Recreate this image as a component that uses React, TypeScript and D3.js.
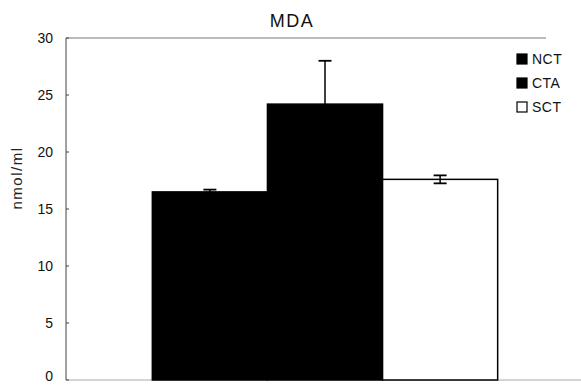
import * as d3 from 'd3';

const title = 'MDA';
const series = ['NCT', 'CTA', 'SCT'];
const means = [16.5, 24.2, 17.6];
const errors = [0.2, 3.8, 0.35];
const fills = ['#000', '#000', '#fff'];
const yTicks = [0, 5, 10, 15, 20, 25, 30];
const yLabel = 'nmol/ml';

const width = 581;
const height = 385;
const margin = {top: 38, right: -3, bottom: 5, left: 66};

export default function App() {
	const innerW = width - margin.left - margin.right;
	const innerH = height - margin.top - margin.bottom;

	const x0 = d3.scaleBand().domain([title]).range([0, innerW]).paddingInner(0).paddingOuter(0.25);
	const x1 = d3.scaleBand().domain(series).range([0, x0.bandwidth()]).padding(0);
	const y = d3.scaleLinear().domain([0, 30]).range([innerH, 0]);

	const font = '"Liberation Sans", Arial, sans-serif';
	const cap = 6.5;

	return (
		<svg
			width={width}
			height={height}
			style={{position: 'fixed', left: 0, top: 0, background: '#fff'}}
			fontFamily={font}
		>
			<text x={292} y={27} textAnchor="middle" fontSize={18} letterSpacing={1.5} fill="#111">
				{title}
			</text>
			<text
				transform={`translate(22,${178}) rotate(-90)`}
				textAnchor="middle"
				fontSize={15}
				letterSpacing={1.5}
				fill="#222"
			>
				{yLabel}
			</text>
			<g transform={`translate(${margin.left},${margin.top})`}>
				{/* frame */}
				<line x1={0} x2={480} y1={0} y2={0} stroke="#777" strokeWidth={1} />
				<line x1={0} x2={innerW} y1={innerH} y2={innerH} stroke="#aaa" strokeWidth={1} />
				<line x1={0} x2={0} y1={0} y2={innerH} stroke="#444" strokeWidth={1} />
				{yTicks.map((t) => (
					<g key={t} transform={`translate(0,${y(t)})`}>
						<line x1={0} x2={3} stroke="#444" />
						<text x={-13} dy={t === 0 ? '0.1em' : '0.35em'} textAnchor="end" fontSize={14} fill="#111">
							{t}
						</text>
					</g>
				))}
				{series.map((s, i) => {
					const bx = x0(title)! + x1(s)!;
					const cx = bx + x1.bandwidth() / 2;
					return (
						<g key={s}>
							<rect
								x={bx}
								y={y(means[i])}
								width={x1.bandwidth()}
								height={innerH - y(means[i])}
								fill={fills[i]}
								stroke="#000"
								strokeWidth={1.5}
							/>
							<line x1={cx} x2={cx} y1={y(means[i] + errors[i])} y2={y(means[i] - errors[i])} stroke="#000" strokeWidth={1.5} />
							<line x1={cx - cap} x2={cx + cap} y1={y(means[i] + errors[i])} y2={y(means[i] + errors[i])} stroke="#000" strokeWidth={1.8} />
							<line x1={cx - cap} x2={cx + cap} y1={y(means[i] - errors[i])} y2={y(means[i] - errors[i])} stroke="#000" strokeWidth={1.8} />
						</g>
					);
				})}
			</g>
			<g transform="translate(517,0)">
				{series.map((s, i) => (
					<g key={s} transform={`translate(0,${59 + i * 24})`}>
						<rect x={0} y={-5} width={10} height={10} fill={fills[i]} stroke="#000" strokeWidth={1.2} />
						<text x={15} dy="0.35em" fontSize={14} letterSpacing={0.5} fill="#111">
							{s}
						</text>
					</g>
				))}
			</g>
		</svg>
	);
}
